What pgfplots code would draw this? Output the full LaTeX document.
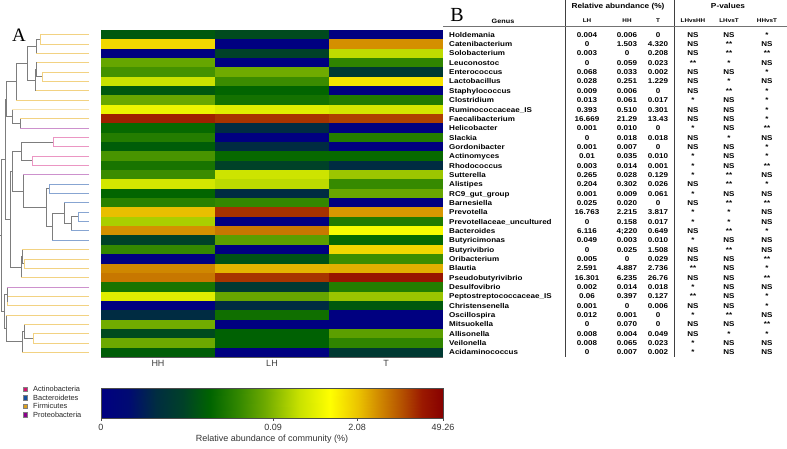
\documentclass[border=0pt]{standalone}
\usepackage{pgfplots}
\pgfplotsset{compat=1.18}
\usepackage{pgfplotstable}
\usepackage{fontspec}
\setmainfont{Liberation Sans}
\newfontfamily\seriffont{Liberation Serif}
\newfontfamily\tabfont[FakeStretch=1.15]{Liberation Sans}

% relative abundance (%) and p-values, rows top to bottom
\pgfplotstableread{
name LH HH T pa pb pc
Holdemania 0.004 0.006 0 NS NS *
Catenibacterium 0 1.503 4.320 NS ** NS
Solobacterium 0.003 0 0.208 NS ** **
Leuconostoc 0 0.059 0.023 ** * NS
Enterococcus 0.068 0.033 0.002 NS NS *
Lactobacillus 0.028 0.251 1.229 NS * NS
Staphylococcus 0.009 0.006 0 NS ** *
Clostridium 0.013 0.061 0.017 * NS *
Ruminococcaceae\_IS 0.393 0.510 0.301 NS NS *
Faecalibacterium 16.669 21.29 13.43 NS NS *
Helicobacter 0.001 0.010 0 * NS **
Slackia 0 0.018 0.018 NS * NS
Gordonibacter 0.001 0.007 0 NS NS *
Actinomyces 0.01 0.035 0.010 * NS *
Rhodococcus 0.003 0.014 0.001 * NS **
Sutterella 0.265 0.028 0.129 * ** NS
Alistipes 0.204 0.302 0.026 NS ** *
RC9\_gut\_group 0.001 0.009 0.061 * NS NS
Barnesiella 0.025 0.020 0 NS ** **
Prevotella 16.763 2.215 3.817 * * NS
Prevotellaceae\_uncultured 0 0.158 0.017 * * NS
Bacteroides 6.116 4.220 0.649 NS ** *
Butyricimonas 0.049 0.003 0.010 * NS NS
Butyrivibrio 0 0.025 1.508 NS ** NS
Oribacterium 0.005 0 0.029 NS NS **
Blautia 2.591 4.887 2.736 ** NS *
Pseudobutyrivibrio 16.301 6.235 26.76 NS NS **
Desulfovibrio 0.002 0.014 0.018 * NS NS
Peptostreptococcaceae\_IS 0.06 0.397 0.127 ** NS *
Christensenella 0.001 0 0.006 NS NS *
Oscillospira 0.012 0.001 0 * ** NS
Mitsuokella 0 0.070 0 NS NS **
Allisonella 0.008 0.004 0.049 NS * *
Veilonella 0.008 0.065 0.023 * NS NS
Acidaminococcus 0 0.007 0.002 * NS NS
}\gen

\pgfplotsset{colormap={abund}{
  rgb255(0pt)=(0,0,128) rgb255(8pt)=(0,10,115) rgb255(16pt)=(0,45,65)
  rgb255(24pt)=(0,65,40) rgb255(32pt)=(0,100,0) rgb255(40pt)=(50,135,0)
  rgb255(48pt)=(110,170,0) rgb255(58pt)=(200,225,0) rgb255(67pt)=(255,255,0)
  rgb255(75pt)=(235,195,0) rgb255(81pt)=(210,140,0) rgb255(88pt)=(180,80,0)
  rgb255(94pt)=(155,25,0) rgb255(100pt)=(135,0,0)}}

\pgfdeclareplotmark{cell}{\pgfpathrectangle{\pgfqpoint{-57.2pt}{-4.72pt}}{\pgfqpoint{114.4pt}{9.44pt}}\pgfusepathqfill}

\definecolor{cF}{RGB}{242,210,130}
\definecolor{cP}{RGB}{205,145,205}
\definecolor{cA}{RGB}{235,150,195}
\definecolor{cB}{RGB}{135,165,210}
\definecolor{cG}{RGB}{125,125,125}
\definecolor{lA}{RGB}{210,20,110}
\definecolor{lB}{RGB}{20,80,160}
\definecolor{lF}{RGB}{220,160,30}
\definecolor{lP}{RGB}{140,0,140}

% bracket: x of join, y/x of first child, y/x of second child, colour
\newcommand\jn[6]{\addplot[#6, line width=0.75pt] coordinates {(#3,#2) (#1,#2) (#1,#4) (#5,#4)};}
\newcommand\lf[3]{\addplot[#3, line width=0.75pt] coordinates {(89,#1) (#2,#1)};}

\newcommand\metaof[1]{max(0,0.07835*ln(\thisrow{#1}+0.0001)+0.6916)}

\begin{document}
\begin{tikzpicture}
\path[use as bounding box] (0,0) rectangle (787pt,449pt);

% heat map
\begin{axis}[
  at={(101pt,92pt)}, anchor=south west,
  scale only axis, width=342pt, height=327pt,
  xmin=-0.5, xmax=2.5, ymin=0.5, ymax=35.5, y dir=reverse,
  axis x line*=bottom, axis y line*=left,
  axis line style={draw=black!65, line width=0.8pt},
  xtick={0,1,2}, xticklabels={HH,LH,T}, ytick=\empty,
  major tick length=0pt,
  xticklabel style={font=\fontsize{9}{10}\selectfont, text=black!75},
  colormap name=abund, point meta min=0, point meta max=1,
]
\addplot[scatter, only marks, mark=cell, point meta=explicit,
  scatter/use mapped color={fill=mapped color}]
  table[x expr=0, y expr=\coordindex+1, meta expr={\metaof{HH}}] {\gen};
\addplot[scatter, only marks, mark=cell, point meta=explicit,
  scatter/use mapped color={fill=mapped color}]
  table[x expr=1, y expr=\coordindex+1, meta expr={\metaof{LH}}] {\gen};
\addplot[scatter, only marks, mark=cell, point meta=explicit,
  scatter/use mapped color={fill=mapped color}]
  table[x expr=2, y expr=\coordindex+1, meta expr={\metaof{T}}] {\gen};
\end{axis}

% colour key
\begin{axis}[
  at={(101pt,31pt)}, anchor=south west,
  scale only axis, width=342pt, height=30pt,
  xmin=0, xmax=1, ymin=0, ymax=1, enlargelimits=false,
  ytick=\empty, xtick={0,0.503,0.749,1}, xticklabels={0,0.09,2.08,49.26},
  xtick pos=bottom, xtick align=outside, major tick length=3pt,
  tick style={draw=black!70}, axis line style={draw=black!70},
  axis on top,
  xticklabel style={font=\fontsize{9}{10}\selectfont, text=black!80},
  xlabel={Relative abundance of community (\%)},
  xlabel style={font=\fontsize{9}{10}\selectfont, text=black!80, yshift=3pt},
  colormap name=abund, point meta min=0, point meta max=1,
]
\addplot[surf, shader=interp, mesh/rows=2, point meta=x] coordinates {
  (0,0) (0.08,0) (0.16,0) (0.24,0) (0.32,0) (0.40,0) (0.48,0) (0.58,0) (0.67,0) (0.75,0) (0.81,0) (0.88,0) (0.94,0) (1,0)
  (0,1) (0.08,1) (0.16,1) (0.24,1) (0.32,1) (0.40,1) (0.48,1) (0.58,1) (0.67,1) (0.75,1) (0.81,1) (0.88,1) (0.94,1) (1,1)
};
\end{axis}

% dendrogram
\begin{axis}[
  at={(0pt,92pt)}, anchor=south west,
  scale only axis, width=90pt, height=327pt,
  xmin=0, xmax=90, ymin=0.5, ymax=35.5, y dir=reverse,
  hide axis, clip=false,
]
\jn{40}{1}{89}{2}{89}{cF}
\jn{36}{1.5}{40}{3}{89}{cG}
\jn{42}{5}{89}{6}{89}{cF}
\jn{36.5}{4}{89}{5.5}{42}{cG}
\jn{35.5}{4.75}{36.5}{7}{89}{cG}
\jn{27}{2.25}{36}{5.875}{35.5}{cG}
\jn{16}{4.06}{27}{8}{89}{cG}
\jn{20}{10}{89}{11}{89}{cG}
\jn{12}{9}{89}{10.5}{20}{cG}
\jn{6}{6.03}{16}{9.75}{12}{cG}
\jn{53}{12}{89}{13}{89}{cA}
\jn{32}{14}{89}{15}{89}{cA}
\jn{21}{12.5}{53}{14.5}{32}{cG}
\jn{49}{17}{89}{18}{89}{cB}
\jn{78}{20}{89}{21}{89}{cB}
\jn{71}{20.5}{78}{22}{89}{cG}
\jn{64}{19}{89}{21.25}{71}{cG}
\jn{52}{20.125}{64}{23}{89}{cG}
\jn{46}{17.5}{49}{21.56}{52}{cG}
\jn{23}{16}{89}{19.53}{46}{cG}
\jn{12}{13.5}{21}{17.77}{23}{cG}
\jn{24}{25}{89}{26}{89}{cF}
\jn{22}{24}{89}{25.5}{24}{cG}
\jn{21}{24.75}{22}{27}{89}{cG}
\jn{10}{15.63}{12}{25.875}{21}{cG}
\jn{5}{7.89}{6}{20.75}{10}{cG}
\jn{7.5}{29}{89}{30}{89}{cF}
\jn{7}{28}{89}{29.5}{7.5}{cG}
\jn{33}{33}{89}{34}{89}{cF}
\jn{24}{32}{89}{33.5}{33}{cG}
\jn{22}{32.75}{24}{35}{89}{cG}
\jn{6}{31}{89}{33.875}{22}{cG}
\jn{4}{28.75}{7}{32.44}{6}{cG}
\jn{1.5}{14.32}{5}{30.59}{4}{cG}
\addplot[cG, line width=0.75pt] coordinates {(1.5,22.46) (0,22.46)};
\lf{1}{40}{cF}\lf{2}{40}{cF}\lf{3}{36}{cF}\lf{4}{36.5}{cF}\lf{5}{42}{cF}
\lf{6}{42}{cF}\lf{7}{35.5}{cF}\lf{8}{16}{cF}\lf{9}{12}{cF!60}\lf{10}{20}{cF}
\lf{11}{20}{cP}\lf{12}{53}{cA}\lf{13}{53}{cA}\lf{14}{32}{cA}\lf{15}{32}{cA}
\lf{16}{23}{cP}\lf{17}{49}{cB}\lf{18}{49}{cB}\lf{19}{64}{cB}\lf{20}{78}{cB}
\lf{21}{78}{cB}\lf{22}{71}{cB}\lf{23}{52}{cB}\lf{24}{22}{cF}\lf{25}{24}{cF}
\lf{26}{24}{cF}\lf{27}{21}{cF}\lf{28}{7}{cP}\lf{29}{7.5}{cF}\lf{30}{7.5}{cF}
\lf{31}{6}{cF}\lf{32}{24}{cF}\lf{33}{33}{cF}\lf{34}{33}{cF}\lf{35}{22}{cF}
\end{axis}

% panel letters
\node[font=\seriffont\fontsize{19}{19}\selectfont] at (19pt,414pt) {A};
\node[font=\seriffont\fontsize{20}{20}\selectfont] at (457pt,434pt) {B};

% phylum legend
\foreach \nm/\cl/\yy in {Actinobacteria/lA/389.3, Bacteroidetes/lB/397.7,
  Firmicutes/lF/406, Proteobacteria/lP/414.7}{
  \pgfmathsetmacro\ya{449-\yy-2.3}
  \pgfmathsetmacro\yb{449-\yy+2.3}
  \pgfmathsetmacro\yc{449-\yy}
  \fill[fill=\cl, draw=black!50, line width=0.3pt] (22.7pt,\ya pt) rectangle (27.3pt,\yb pt);
  \node[anchor=west, inner sep=0pt, font=\fontsize{7.4}{8}\selectfont, text=black!85] at (33pt,\yc pt) {\nm};
}

% table B
\tikzset{tab/.style={font=\tabfont\bfseries\fontsize{7}{8}\selectfont, inner sep=0pt, anchor=base}}
\draw[black!75, line width=0.8pt] (565pt,449pt) -- (565pt,92pt);
\draw[black!75, line width=0.8pt] (674pt,449pt) -- (674pt,92pt);
\draw[black!55, line width=0.6pt] (443pt,422.3pt) -- (787pt,422.3pt);
\node[tab, font=\tabfont\bfseries\fontsize{7.2}{8}\selectfont] at (618pt,440.5pt) {Relative abundance (\%)};
\node[tab, font=\tabfont\bfseries\fontsize{7.2}{8}\selectfont] at (728pt,440.5pt) {P-values};
\node[tab, font=\tabfont\bfseries\fontsize{6.3}{7}\selectfont] at (503pt,425.5pt) {Genus};
\foreach \h/\xx in {LH/587,HH/627,T/658,LHvsHH/693,LHvsT/729,HHvsT/767}{
  \node[tab, font=\tabfont\bfseries\fontsize{5.5}{6}\selectfont] at (\xx pt,426pt) {\h};
}
\foreach \i in {0,...,34}{
  \pgfmathsetmacro\yy{414.33-9.343*\i-2.6}
  \pgfplotstablegetelem{\i}{name}\of\gen
  \node[tab, anchor=base west] at (449pt,\yy pt) {\pgfplotsretval};
  \pgfplotstablegetelem{\i}{LH}\of\gen
  \node[tab] at (587pt,\yy pt) {\pgfplotsretval};
  \pgfplotstablegetelem{\i}{HH}\of\gen
  \ifnum\i=21 \def\pgfplotsretval{4;220}\fi
  \node[tab] at (627pt,\yy pt) {\pgfplotsretval};
  \pgfplotstablegetelem{\i}{T}\of\gen
  \node[tab] at (658pt,\yy pt) {\pgfplotsretval};
  \pgfplotstablegetelem{\i}{pa}\of\gen
  \node[tab] at (693pt,\yy pt) {\pgfplotsretval};
  \pgfplotstablegetelem{\i}{pb}\of\gen
  \node[tab] at (729pt,\yy pt) {\pgfplotsretval};
  \pgfplotstablegetelem{\i}{pc}\of\gen
  \node[tab] at (767pt,\yy pt) {\pgfplotsretval};
}
\end{tikzpicture}
\end{document}
